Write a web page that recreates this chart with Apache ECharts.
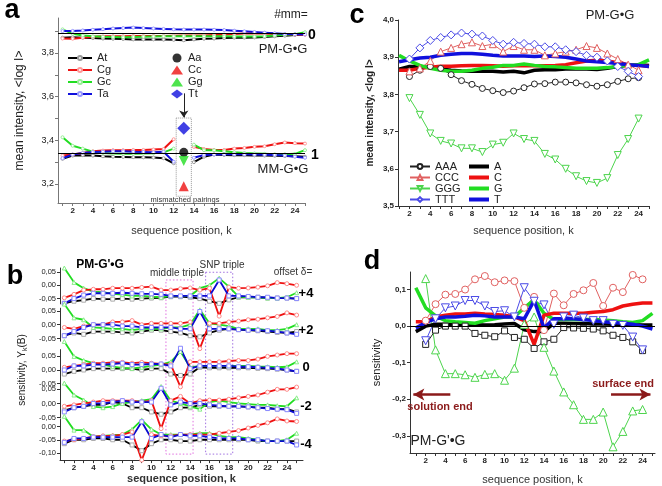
<!DOCTYPE html>
<html>
<head>
<meta charset="UTF-8">
<title>PM-G•G sensitivity</title>
<script src="https://cdn.jsdelivr.net/npm/echarts@6/dist/echarts.min.js"></script>
<style>
    html, body { margin: 0; padding: 0; background: #fff; }
    #chart { width: 662px; height: 486px; }
</style>
</head>
<body>
<div id="chart"></div>
<script>
const FONT = 'Liberation Sans, Arial, sans-serif';

// sequence positions and tick labels
const kAll = [1,2,3,4,5,6,7,8,9,10,11,12,13,14,15,16,17,18,19,20,21,22,23,24,25];
const kInner = [2,3,4,5,6,7,8,9,10,11,12,13,14,15,16,17,18,19,20,21,22,23,24];
const kLabels = [2,4,6,8,10,12,14,16,18,20,22,24];

// panel a: mean intensity, PM and MM probes
const aPmAt = [3.870,3.872,3.870,3.868,3.866,3.865,3.864,3.862,3.862,3.862,3.861,3.860,3.858,3.862,3.865,3.866,3.868,3.870,3.870,3.871,3.873,3.876,3.879,3.882,3.885];
const aPmCg = [3.866,3.865,3.870,3.874,3.876,3.877,3.877,3.878,3.878,3.878,3.878,3.879,3.880,3.880,3.880,3.882,3.884,3.887,3.889,3.890,3.889,3.887,3.885,3.884,3.883];
const aPmGc = [3.908,3.888,3.880,3.876,3.874,3.873,3.872,3.873,3.874,3.875,3.876,3.876,3.877,3.876,3.876,3.876,3.876,3.875,3.875,3.875,3.877,3.880,3.883,3.886,3.895];
const aPmTa = [3.900,3.901,3.903,3.906,3.909,3.912,3.914,3.916,3.914,3.912,3.910,3.908,3.907,3.907,3.907,3.906,3.905,3.902,3.899,3.896,3.893,3.890,3.887,3.886,3.885];
const aMmAt = [3.315,3.330,3.332,3.330,3.327,3.325,3.324,3.323,3.322,3.321,3.318,3.295,null,3.300,3.325,3.335,3.333,3.332,3.332,3.331,3.330,3.329,3.328,3.327,3.325];
const aMmCg = [3.330,3.335,3.342,3.350,3.353,3.355,3.355,3.356,3.356,3.358,3.360,3.405,null,3.370,3.360,3.356,3.356,3.362,3.365,3.370,3.373,3.382,3.390,3.387,3.385];
const aMmGc = [3.414,3.375,3.362,3.348,3.342,3.340,3.339,3.339,3.340,3.341,3.345,3.362,null,3.380,3.355,3.355,3.350,3.345,3.342,3.340,3.338,3.336,3.336,3.338,3.355];
const aMmTa = [3.318,3.335,3.342,3.346,3.348,3.350,3.350,3.348,3.347,3.345,3.348,3.302,null,3.320,3.333,3.335,3.336,3.336,3.336,3.335,3.334,3.333,3.330,3.325,3.320];
const aMisK = 13;
const aAa = 3.345, aCc = 3.190, aGg = 3.305, aTt = 3.455;
const aLevelPM = 3.886, aLevelMM = 3.338;

// panel c: triples and singles
const cAAA = [3.848,3.865,3.875,3.870,3.853,3.837,3.827,3.816,3.810,3.805,3.809,3.818,3.828,3.829,3.833,3.833,3.831,3.826,3.822,3.826,3.835,3.842,3.845];
const cCCC = [3.862,3.870,3.890,3.915,3.925,3.935,3.940,3.930,3.935,3.915,3.930,3.920,3.920,3.905,3.910,3.915,3.920,3.930,3.925,3.910,3.895,3.880,3.865];
const cGGG = [3.790,3.745,3.695,3.675,3.668,3.655,3.655,3.645,3.665,3.670,3.695,3.680,3.675,3.640,3.625,3.600,3.580,3.567,3.562,3.575,3.637,3.680,3.735];
const cTTT = [3.895,3.925,3.945,3.953,3.960,3.965,3.962,3.957,3.945,3.935,3.940,3.937,3.935,3.928,3.928,3.920,3.915,3.905,3.900,3.890,3.875,3.862,3.848];
const cA = [3.868,3.875,3.875,3.872,3.868,3.865,3.863,3.862,3.862,3.862,3.860,3.862,3.858,3.865,3.866,3.866,3.868,3.868,3.868,3.867,3.870,3.875,3.878,3.880,3.878];
const cC = [3.865,3.865,3.870,3.873,3.876,3.876,3.877,3.878,3.878,3.877,3.876,3.877,3.878,3.877,3.877,3.878,3.880,3.885,3.890,3.892,3.890,3.885,3.880,3.878,3.875];
const cG = [3.905,3.890,3.878,3.870,3.865,3.862,3.862,3.865,3.870,3.873,3.878,3.878,3.882,3.878,3.875,3.874,3.872,3.870,3.870,3.870,3.872,3.875,3.878,3.880,3.893];
const cT = [3.888,3.893,3.898,3.900,3.905,3.908,3.910,3.910,3.908,3.905,3.903,3.903,3.903,3.902,3.903,3.902,3.900,3.895,3.890,3.888,3.886,3.883,3.880,3.878,3.875];

// panel d: sensitivity
const dSq = [-0.050,-0.011,0.000,0.000,0.000,-0.020,-0.025,-0.029,-0.013,-0.031,-0.036,-0.061,-0.043,-0.036,-0.004,-0.005,-0.006,-0.008,-0.013,-0.025,-0.031,-0.043,-0.067];
const dCirc = [0.015,0.060,0.086,0.088,0.100,0.128,0.137,0.120,0.125,0.123,0.050,0.080,-0.011,0.089,0.057,0.088,0.098,0.118,0.055,0.105,0.093,0.140,0.128];
const dTri = [0.130,-0.065,-0.130,-0.130,-0.133,-0.140,-0.132,-0.130,-0.148,-0.115,0.005,0.025,-0.058,-0.123,-0.180,-0.215,-0.255,-0.255,-0.235,-0.330,-0.288,-0.232,-0.228];
const dDown = [-0.040,0.020,0.050,0.055,0.070,0.070,0.055,0.040,0.042,0.025,0.105,0.068,0.058,0.005,0.025,0.030,0.022,0.015,0.015,0.005,0.002,-0.030,-0.065];
const dA = [-0.015,0.000,0.005,0.005,0.005,0.005,0.004,0.003,0.004,0.006,0.007,-0.010,-0.015,-0.015,0.008,0.008,0.007,0.007,0.006,0.006,0.005,0.005,0.004,0.003,0.003];
const dC = [0.012,0.012,0.025,0.030,0.033,0.033,0.035,0.033,0.032,0.030,0.025,0.015,-0.050,0.030,0.035,0.035,0.035,0.035,0.038,0.040,0.045,0.055,0.060,0.063,0.063];
const dG = [0.105,0.050,0.028,0.015,0.012,0.010,0.008,0.015,0.020,0.025,0.025,0.050,0.072,0.035,0.018,0.018,0.018,0.018,0.018,0.017,0.015,0.012,0.010,0.015,0.035];
const dT = [-0.005,0.010,0.020,0.025,0.025,0.027,0.030,0.028,0.025,0.025,0.025,0.020,0.070,-0.005,0.020,0.020,0.020,0.018,0.015,0.012,0.010,0.008,0.005,0.000,-0.008];

// panel b: sensitivity for offsets +4, +2, 0, -2, -4
const b4Black = [-0.068,-0.060,-0.056,-0.050,-0.052,-0.052,-0.050,-0.052,-0.050,-0.048,-0.047,-0.043,-0.043,-0.045,-0.050,-0.060,-0.068,-0.055,-0.045,-0.045,-0.045,-0.048,-0.048,-0.048,-0.050];
const b4Red = [-0.047,-0.034,-0.018,-0.015,-0.015,-0.011,-0.011,-0.011,-0.008,-0.005,-0.018,-0.018,-0.013,-0.010,-0.018,-0.011,-0.116,-0.007,-0.011,-0.010,-0.007,-0.002,0.010,0.006,0.000];
const b4Green = [0.065,0.011,-0.011,-0.024,-0.026,-0.032,-0.035,-0.040,-0.040,-0.043,-0.045,-0.040,-0.040,-0.040,-0.011,0.000,0.027,-0.005,-0.043,-0.045,-0.045,-0.048,-0.048,-0.045,-0.028];
const b4Blue = [-0.068,-0.050,-0.037,-0.030,-0.030,-0.030,-0.028,-0.030,-0.032,-0.032,-0.034,-0.040,-0.040,-0.040,-0.040,-0.040,0.020,-0.040,-0.040,-0.042,-0.045,-0.045,-0.048,-0.048,-0.050];
const b2Black = [-0.040,-0.030,-0.035,-0.025,-0.025,-0.025,-0.028,-0.030,-0.025,-0.020,-0.020,-0.025,-0.030,-0.040,-0.044,-0.030,-0.020,-0.015,-0.018,-0.020,-0.022,-0.025,-0.028,-0.030,-0.025];
const b2Red = [-0.010,-0.015,-0.005,0.000,0.000,0.010,0.010,0.015,0.000,0.005,0.005,0.005,0.005,0.010,-0.087,0.005,0.005,0.010,0.013,0.018,0.020,0.025,0.030,0.043,0.035];
const b2Green = [0.075,0.025,0.018,-0.010,-0.012,-0.015,-0.015,-0.020,-0.015,-0.015,-0.015,-0.010,-0.010,0.000,0.054,0.005,0.000,-0.005,-0.015,-0.015,-0.015,-0.020,-0.020,-0.015,0.000];
const b2Blue = [-0.040,-0.025,-0.010,0.000,0.000,0.000,-0.005,-0.005,-0.010,-0.010,-0.010,-0.010,-0.015,-0.015,0.048,-0.015,-0.015,-0.015,-0.018,-0.020,-0.020,-0.022,-0.025,-0.030,-0.035];
const b0Black = [-0.015,-0.005,0.000,0.005,0.005,0.005,0.005,0.005,0.000,0.005,0.005,-0.015,-0.020,-0.015,0.010,0.008,0.008,0.008,0.008,0.008,0.006,0.005,0.003,0.000,-0.005];
const b0Red = [0.010,0.015,0.020,0.025,0.025,0.028,0.028,0.025,0.028,0.025,0.022,0.020,-0.062,0.030,0.030,0.030,0.030,0.033,0.035,0.035,0.040,0.050,0.055,0.060,0.060];
const b0Green = [0.105,0.050,0.035,0.025,0.020,0.012,0.008,0.006,0.010,0.015,0.020,0.030,0.068,0.010,0.015,0.015,0.015,0.015,0.015,0.015,0.013,0.012,0.010,0.012,0.030];
const b0Blue = [0.000,0.015,0.015,0.020,0.020,0.022,0.025,0.020,0.020,0.022,0.022,0.015,0.080,0.005,0.015,0.015,0.015,0.015,0.012,0.012,0.010,0.008,0.005,0.000,-0.005];
const bm2Black = [-0.025,-0.015,-0.010,-0.005,-0.005,0.005,0.000,-0.015,-0.015,-0.030,-0.038,-0.030,-0.015,-0.015,-0.005,-0.010,-0.010,-0.010,-0.010,-0.012,-0.015,-0.015,-0.020,-0.020,-0.030];
const bm2Red = [-0.010,-0.005,0.000,0.005,0.010,0.010,0.010,0.010,0.005,0.010,-0.089,0.010,0.025,0.000,0.010,0.012,0.012,0.015,0.020,0.025,0.030,0.040,0.050,0.050,0.058];
const bm2Green = [0.072,0.030,0.012,-0.011,-0.015,-0.011,0.000,0.005,0.010,0.015,0.060,0.010,0.000,-0.010,-0.020,0.005,0.010,0.005,0.000,-0.002,-0.005,-0.005,-0.008,-0.010,0.020];
const bm2Blue = [-0.030,-0.015,-0.010,0.000,0.000,0.005,0.010,0.005,0.005,0.005,0.054,-0.005,0.005,0.000,0.000,-0.005,-0.008,-0.010,-0.010,-0.012,-0.015,-0.018,-0.020,-0.022,-0.035];
const bm4Black = [-0.065,-0.050,-0.050,-0.045,-0.045,-0.050,-0.050,-0.070,-0.092,-0.065,-0.050,-0.050,-0.055,-0.055,-0.050,-0.050,-0.050,-0.050,-0.050,-0.050,-0.055,-0.055,-0.055,-0.055,-0.055];
const bm4Red = [-0.055,-0.050,-0.045,-0.038,-0.035,-0.035,-0.030,-0.020,-0.128,-0.030,-0.035,-0.035,-0.030,-0.030,-0.030,-0.030,-0.025,-0.020,-0.015,-0.005,0.005,0.015,0.030,0.022,0.020];
const bm4Green = [0.040,-0.013,-0.013,-0.038,-0.035,-0.032,-0.030,-0.010,0.026,-0.010,-0.030,-0.030,-0.030,-0.030,-0.025,-0.025,-0.035,-0.040,-0.040,-0.045,-0.050,-0.055,-0.055,-0.050,-0.025];
const bm4Blue = [-0.060,-0.045,-0.045,-0.040,-0.040,-0.040,-0.040,-0.040,0.019,-0.045,-0.030,-0.040,-0.030,-0.035,-0.035,-0.040,-0.045,-0.045,-0.045,-0.050,-0.050,-0.055,-0.055,-0.055,-0.070];
const bOffsets = ['+4', '+2', '0', '-2', '-4'];

const BLACK = '#000000', RED = '#ee1111', GREEN = '#22dd22', BLUE = '#1010dd';

const zip = (ks, ys) => ks.map((k, i) => [k, ys[i]]);
const comma = d => v => v.toFixed(d).replace('.', ',');

function line(name, gi, ks, ys, color, width, sym) {
    const s = {
        type: 'line', name: name, xAxisIndex: gi, yAxisIndex: gi,
        data: zip(ks, ys), clip: false, silent: true,
        lineStyle: { color: color, width: width },
        itemStyle: { color: color },
        symbol: 'none'
    };
    if (sym) {
        s.symbol = sym.symbol;
        s.symbolSize = sym.size;
        s.symbolRotate = sym.rotate || 0;
        s.itemStyle = { color: '#fff', borderColor: sym.border, borderWidth: sym.bw || 1 };
    }
    return s;
}

function xAxisFor(gi, min, max, o) {
    const show = o.show !== false;
    return {
        type: 'value', gridIndex: gi, min: min, max: max,
        name: o.name || '', nameLocation: 'middle', nameGap: o.nameGap || 20,
        nameTextStyle: { fontFamily: FONT, fontSize: 11, color: '#333', fontWeight: o.bold ? 'bold' : 'normal' },
        axisLine: { show: show, onZero: false, lineStyle: { color: o.color || '#333', width: 1 } },
        axisTick: { show: show, customValues: kAll, length: 3, lineStyle: { color: o.color || '#333' } },
        axisLabel: { show: show, customValues: kLabels, fontFamily: FONT, fontSize: 8, fontWeight: 'bold', color: '#222', margin: 4 },
        splitLine: { show: false }
    };
}

function yAxisFor(gi, min, max, labels, ticks, digits, o) {
    return {
        type: 'value', gridIndex: gi, min: min, max: max,
        name: o.name || '', nameLocation: 'middle', nameGap: o.nameGap || 30, nameRotate: 90,
        nameTextStyle: { fontFamily: FONT, fontSize: o.nameSize || 11, color: '#222', fontWeight: o.nameBold ? 'bold' : 'normal' },
        axisLine: { show: true, onZero: false, lineStyle: { color: o.color || '#333', width: 1 } },
        axisTick: { show: true, customValues: ticks, length: 3, lineStyle: { color: o.color || '#333' } },
        axisLabel: { customValues: labels, formatter: comma(digits), fontFamily: FONT,
            fontSize: o.size || 8, fontWeight: o.bold ? 'bold' : 'normal', color: '#222', margin: 4 },
        splitLine: { show: false }
    };
}

// grids: 0 = a, 1 = c, 2 = d, 3..7 = b (+4 .. -4)
const grids = [
    { left: 58, top: 18, width: 247, height: 185 },
    { left: 398, top: 20, width: 251, height: 186 },
    { left: 410, top: 272, width: 245, height: 181 },
    { left: 60, top: 268.0, width: 243, height: 35.9 },
    { left: 60, top: 308.2, width: 243, height: 33.0 },
    { left: 60, top: 349.6, width: 243, height: 36.7 },
    { left: 60, top: 385.1, width: 243, height: 32.5 },
    { left: 60, top: 418.9, width: 243, height: 41.2 }
];
const bRanges = [[-0.07, 0.065], [-0.06, 0.06], [-0.06, 0.075], [-0.05, 0.065], [-0.128, 0.03]];
const bLabels = [[-0.05, 0, 0.05], [-0.05, 0, 0.05], [-0.05, 0, 0.05], [-0.05, 0, 0.05], [-0.1, -0.05, 0]];
const bData = [
    [b4Black, b4Red, b4Green, b4Blue],
    [b2Black, b2Red, b2Green, b2Blue],
    [b0Black, b0Red, b0Green, b0Blue],
    [bm2Black, bm2Red, bm2Green, bm2Blue],
    [bm4Black, bm4Red, bm4Green, bm4Blue]
];

const xAxes = [
    xAxisFor(0, 0.55, 25.0, { name: 'sequence position, k', nameGap: 22, color: '#777' }),
    xAxisFor(1, 0.9, 25.0, { name: 'sequence position, k', nameGap: 19 }),
    xAxisFor(2, 0.41, 25.26, { name: 'sequence position, k', nameGap: 21 })
];
const yAxes = [
    yAxisFor(0, 3.113, 3.96, [3.2, 3.4, 3.6, 3.8], [3.2, 3.3, 3.4, 3.5, 3.6, 3.7, 3.8, 3.9], 1,
        { name: 'mean intensity, <log I>', nameGap: 32, nameSize: 12, size: 9, color: '#777' }),
    yAxisFor(1, 3.5, 4.0, [3.5, 3.6, 3.7, 3.8, 3.9, 4.0], [3.5, 3.6, 3.7, 3.8, 3.9, 4.0], 1,
        { name: 'mean intensity, <log I>', nameGap: 23, nameSize: 10, nameBold: true, bold: true }),
    yAxisFor(2, -0.347, 0.148, [-0.3, -0.2, -0.1, 0, 0.1], [-0.3, -0.2, -0.1, 0, 0.1], 1,
        { name: 'sensitivity', nameGap: 28, bold: true })
];
for (let i = 0; i < 5; i++) {
    xAxes.push(xAxisFor(3 + i, 0.554, 25.66, i === 4
        ? { name: 'sequence position, k', nameGap: 12, bold: true }
        : { show: false }));
    yAxes.push(yAxisFor(3 + i, bRanges[i][0], bRanges[i][1], bLabels[i], bLabels[i], 2, { size: 7.5 }));
}

const series = [];

// panel a
const aPm = [['At', aPmAt, BLACK, '#999'], ['Cg', aPmCg, RED, '#f99'], ['Gc', aPmGc, GREEN, '#9e9'], ['Ta', aPmTa, BLUE, '#99f']];
const aMm = [aMmAt, aMmCg, aMmGc, aMmTa];
aPm.forEach((p, i) => {
    series.push(line(p[0], 0, kAll, p[1], p[2], 2, { symbol: 'circle', size: 3, border: p[3] }));
    series.push(line(p[0], 0, kAll, aMm[i], p[2], 2, { symbol: 'circle', size: 3, border: p[3] }));
});
series[0].markLine = {
    silent: true, symbol: 'none', label: { show: false },
    lineStyle: { color: '#000', width: 1, type: 'solid' },
    data: [{ yAxis: aLevelPM }, { yAxis: aLevelMM }]
};
const misSym = [['Aa', aAa, BLACK, 'circle', 9, 0], ['Cc', aCc, RED, 'triangle', 10, 0],
                ['Gg', aGg, GREEN, 'triangle', 10, 180], ['Tt', aTt, BLUE, 'diamond', 13, 0]];
misSym.forEach(m => {
    series.push({
        type: 'scatter', name: m[0], xAxisIndex: 0, yAxisIndex: 0, silent: true,
        data: [[aMisK, m[1]]], symbol: m[3], symbolSize: m[4], symbolRotate: m[5],
        itemStyle: { color: m[2] }, z: 5
    });
});
series[series.length - 1].markArea = {
    silent: true,
    itemStyle: { color: 'rgba(0,0,0,0)', borderColor: '#999', borderWidth: 1, borderType: 'dotted' },
    data: [[{ coord: [12.25, 3.502] }, { coord: [13.75, 3.144] }]]
};
series[series.length - 1].markLine = {
    silent: true, symbol: ['none', 'arrow'], symbolSize: 7, label: { show: false },
    lineStyle: { color: '#222', width: 1, type: 'solid' },
    data: [[{ coord: [13, 3.615] }, { coord: [13, 3.505] }]]
};

// panel c
series.push(line('AAA', 1, kInner, cAAA, '#222', 1, { symbol: 'circle', size: 6, border: '#222' }));
series.push(line('CCC', 1, kInner, cCCC, '#e06060', 1, { symbol: 'triangle', size: 7, border: '#e06060' }));
series.push(line('GGG', 1, kInner, cGGG, '#4cd44c', 1, { symbol: 'triangle', size: 7, rotate: 180, border: '#4cd44c' }));
series.push(line('TTT', 1, kInner, cTTT, '#4a4ae6', 1, { symbol: 'diamond', size: 8, border: '#4a4ae6' }));
series.push(line('A', 1, kAll, cA, BLACK, 3.5));
series.push(line('C', 1, kAll, cC, RED, 3.5));
series.push(line('G', 1, kAll, cG, GREEN, 3.5));
series.push(line('T', 1, kAll, cT, BLUE, 3.5));

// panel d
const dSqS = line('d-AAA', 2, kInner, dSq, '#222', 1, { symbol: 'rect', size: 6, border: '#222' });
dSqS.markLine = {
    silent: true, symbol: 'none', label: { show: false },
    lineStyle: { color: '#000', width: 1, type: 'solid' }, data: [{ yAxis: 0 }]
};
series.push(dSqS);
series.push(line('d-CCC', 2, kInner, dCirc, '#e06060', 1, { symbol: 'circle', size: 7, border: '#e06060' }));
series.push(line('d-GGG', 2, kInner, dTri, '#4cd44c', 1, { symbol: 'triangle', size: 8, border: '#4cd44c' }));
series.push(line('d-TTT', 2, kInner, dDown, '#4a4ae6', 1, { symbol: 'triangle', size: 8, rotate: 180, border: '#4a4ae6' }));
const dAS = line('d-A', 2, kAll, dA, BLACK, 3.5);
dAS.markLine = {
    silent: true, symbol: ['none', 'arrow'], symbolSize: [9, 11], label: { show: false },
    lineStyle: { color: '#8b1a1a', width: 2.5, type: 'solid' },
    data: [
        [{ coord: [4.5, -0.187] }, { coord: [0.75, -0.187] }],
        [{ coord: [20.8, -0.187] }, { coord: [24.8, -0.187] }]
    ]
};
series.push(dAS);
series.push(line('d-G', 2, kAll, dG, GREEN, 3.5));
series.push(line('d-C', 2, kAll, dC, RED, 3.5));
series.push(line('d-T', 2, kAll, dT, BLUE, 3.5));

// panel b
const bStyle = [
    [BLACK, 'rect', '#aaa'], [RED, 'circle', '#f88'], [GREEN, 'triangle', '#8e8'], ['#0a0ad0', 'rect', '#88f']
];
const bOrder = [0, 2, 1, 3];
bData.forEach((set, i) => {
    bOrder.forEach(j => {
        const st = bStyle[j];
        series.push(line('b' + bOffsets[i] + '-' + j, 3 + i, kAll, set[j], st[0], 1.8,
            { symbol: st[1], size: 4, border: st[2] }));
    });
});

const legendText = lh => ({ fontSize: 11, lineHeight: lh, color: '#222' });
const option = {
    animation: false,
    textStyle: { fontFamily: FONT },
    grid: grids,
    xAxis: xAxes,
    yAxis: yAxes,
    legend: [
        { data: ['At', 'Cg', 'Gc', 'Ta'], orient: 'vertical', left: 62, top: 47, itemWidth: 24, itemHeight: 5,
          itemGap: 0, selectedMode: false, textStyle: legendText(12) },
        { data: ['Aa', 'Cc', 'Gg', 'Tt'], orient: 'vertical', left: 166, top: 47, itemWidth: 12, itemHeight: 9,
          itemGap: 0, selectedMode: false, textStyle: legendText(12) },
        { data: ['AAA', 'CCC', 'GGG', 'TTT'], orient: 'vertical', left: 404, top: 156, itemWidth: 20, itemHeight: 6,
          itemGap: 0, selectedMode: false, textStyle: legendText(11) },
        { data: ['A', 'C', 'G', 'T'], orient: 'vertical', left: 464, top: 156, itemWidth: 20, itemHeight: 4,
          icon: 'rect', itemGap: 0, selectedMode: false, textStyle: legendText(11) }
    ],
    series: series
};

const chart = echarts.init(document.getElementById('chart'));
chart.setOption(option);

function txt(text, x, y, font, fill, extra) {
    return Object.assign({
        type: 'text', x: x, y: y, silent: true, z: 20,
        style: { text: text, font: font, fill: fill || '#222', align: 'center', verticalAlign: 'middle' }
    }, extra || {});
}

const graphics = [
    txt('a', 12, 11, 'bold 27px ' + FONT, '#000'),
    txt('b', 15, 277, 'bold 27px ' + FONT, '#000'),
    txt('c', 357, 16, 'bold 27px ' + FONT, '#000'),
    txt('d', 372, 262, 'bold 27px ' + FONT, '#000'),
    txt('#mm=', 291, 15, '12px ' + FONT),
    txt('0', 312, 35, 'bold 14px ' + FONT, '#000'),
    txt('1', 315, 155, 'bold 14px ' + FONT, '#000'),
    txt('PM-G•G', 283, 49, '13px ' + FONT),
    txt('MM-G•G', 283, 169, '13px ' + FONT),
    txt('mismatched pairings', 185, 200, '7.5px ' + FONT, '#333'),
    txt('PM-G•G', 610, 15, '13px ' + FONT),
    txt('surface end', 623, 384, 'bold 11px ' + FONT, '#8b1a1a'),
    txt('solution end', 440, 407, 'bold 11px ' + FONT, '#8b1a1a'),
    txt("PM-G'•G", 438, 441, '14px ' + FONT),
    txt("PM-G'•G", 100, 265, 'bold 12px ' + FONT, '#000'),
    txt('middle triple', 177, 273, '10px ' + FONT, '#333'),
    txt('SNP triple', 222, 265, '10px ' + FONT, '#333'),
    txt('offset δ=', 293, 272, '10px ' + FONT, '#333'),
    {
        type: 'text', x: 22, y: 370, rotation: Math.PI / 2, silent: true, z: 20,
        style: { text: 'sensitivity, Y{s|k}(B)', font: '10px ' + FONT, fill: '#222',
                 align: 'center', verticalAlign: 'middle',
                 rich: { s: { fontSize: 7, fontFamily: FONT, padding: [6, 0, 0, 0] } } }
    }
];
const offY = [293, 330, 367, 406, 444];
bOffsets.forEach((o, i) => graphics.push(txt(o, 306, offY[i], 'bold 13px ' + FONT, '#000')));

// dotted boxes in panel b, placed through the axes
function box(x0, x1, yTop, yBottom, color) {
    const p1 = chart.convertToPixel({ gridIndex: 3 }, [x0, yTop]);
    const p2 = chart.convertToPixel({ gridIndex: 7 }, [x1, yBottom]);
    return {
        type: 'rect', silent: true, z: 1,
        shape: { x: p1[0], y: p1[1], width: p2[0] - p1[0], height: p2[1] - p1[1] },
        style: { fill: 'none', stroke: color, lineWidth: 1, lineDash: [1.5, 2] }
    };
}
graphics.push(box(11.5, 14.3, 0.02, -0.105, '#e070e0'));
graphics.push(box(15.6, 18.4, 0.049, -0.105, '#a070e0'));

chart.setOption({ graphic: graphics });
</script>
</body>
</html>
